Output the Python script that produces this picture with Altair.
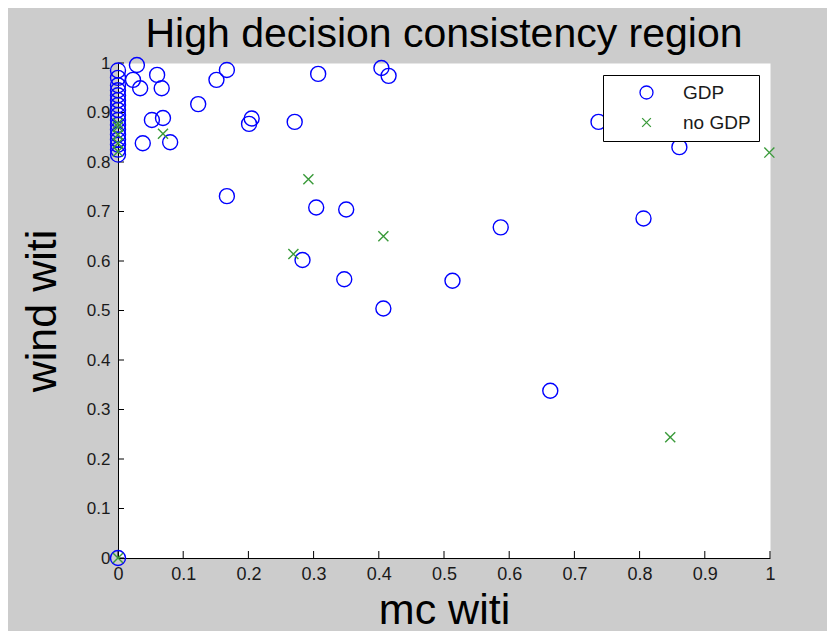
import altair as alt
import pandas as pd

# ---- data ----
gdp_x = [0.029, 0.023, 0.034, 0.060, 0.067, 0.052, 0.069, 0.080, 0.038,
         0.123, 0.151, 0.167, 0.201, 0.205, 0.271, 0.307, 0.404, 0.415,
         0.167, 0.304, 0.350, 0.283, 0.347, 0.407, 0.513, 0.587, 0.806,
         0.663, 0.737, 0.861,
         0.0, 0.0, 0.0, 0.0, 0.0, 0.0, 0.0, 0.0, 0.0, 0.0, 0.0, 0.0,
         0.0, 0.0, 0.0, 0.0, 0.0, 0.0]
gdp_y = [0.996, 0.966, 0.949, 0.976, 0.949, 0.885, 0.889, 0.840, 0.838,
         0.917, 0.966, 0.986, 0.877, 0.888, 0.881, 0.978, 0.990, 0.974,
         0.731, 0.708, 0.704, 0.602, 0.563, 0.504, 0.560, 0.668, 0.686,
         0.338, 0.881, 0.830,
         0.985, 0.970, 0.955, 0.945, 0.935, 0.925, 0.915, 0.905, 0.895,
         0.885, 0.875, 0.865, 0.855, 0.845, 0.835, 0.825, 0.815, 0.0]
nogdp_x = [0.069, 0.292, 0.269, 0.407, 0.847, 0.999,
           0.0, 0.0, 0.0, 0.0, 0.0, 0.0]
nogdp_y = [0.857, 0.765, 0.614, 0.650, 0.244, 0.819,
           0.878, 0.871, 0.855, 0.838, 0.821, 0.0]

groups = ["GDP", "no GDP"]
x_ticks = [0, 0.1, 0.2, 0.3, 0.4, 0.5, 0.6, 0.7, 0.8, 0.9, 1]
y_ticks = [0, 0.1, 0.2, 0.3, 0.4, 0.5, 0.6, 0.7, 0.8, 0.9, 1]

df = pd.DataFrame({
    "mc": gdp_x + nogdp_x,
    "wind": gdp_y + nogdp_y,
    "group": ["GDP"] * len(gdp_x) + ["no GDP"] * len(nogdp_x),
})
xt_df = pd.DataFrame({"mc": x_ticks})
yt_df = pd.DataFrame({"wind": y_ticks})

FONT = "Liberation Sans"
X_SHAPE = "M-0.67,-0.67L0.67,0.67M-0.67,0.67L0.67,-0.67"

xscale = alt.Scale(domain=[0, 1], nice=False, zero=False)
yscale = alt.Scale(domain=[0, 1], nice=False, zero=False)

xaxis = alt.Axis(values=x_ticks, format="~g", title="mc witi", labelFontSize=18,
                 labelPadding=7, titleFontSize=43, titlePadding=6, labelFlush=False)
yaxis = alt.Axis(values=y_ticks, format="~g", title="wind witi", labelFontSize=17,
                 labelPadding=8, titleFontSize=43, titlePadding=22, labelFlush=False)

legend = alt.Legend(title=None, orient="none", legendX=485, legendY=12,
                    padding=8, symbolOffset=26, labelOffset=27, rowPadding=10,
                    labelFontSize=19, labelFont=FONT, labelColor="#1a1a1a",
                    symbolSize=169, symbolStrokeWidth=1.3,
                    strokeColor="black", fillColor="white", cornerRadius=0)

xticks = alt.Chart(xt_df).mark_rule(color="black", strokeWidth=1).encode(
    x=alt.X("mc:Q", scale=xscale, axis=xaxis),
    y=alt.value(495), y2=alt.value(488),
)
yticks = alt.Chart(yt_df).mark_rule(color="black", strokeWidth=1).encode(
    y=alt.Y("wind:Q", scale=yscale, axis=yaxis),
    x=alt.value(0), x2=alt.value(6),
)

points = alt.Chart(df).mark_point(filled=False, size=225, strokeWidth=1.4, opacity=1).encode(
    x=alt.X("mc:Q", scale=xscale, axis=xaxis),
    y=alt.Y("wind:Q", scale=yscale, axis=yaxis),
    color=alt.Color("group:N", scale=alt.Scale(domain=groups, range=["#0000ff", "#3a9a3a"]),
                    legend=legend),
    shape=alt.Shape("group:N", scale=alt.Scale(domain=groups, range=["circle", X_SHAPE]),
                    legend=legend),
)

chart = alt.layer(xticks, yticks, points).properties(
    width=652, height=495,
    autosize=alt.AutoSizeParams(type="none"),
    padding={"left": 110, "right": 57, "top": 55, "bottom": 73},
    background="#cccccc",
    title=alt.Title("High decision consistency region", fontSize=41, font=FONT,
                    fontWeight="normal", color="black", anchor="middle", offset=4, dy=6),
).configure_view(
    fill="white", stroke="transparent"
).configure_axis(
    domainColor="black", domainWidth=1, grid=False, ticks=False, tickSize=0,
    labelFont=FONT, labelColor="#1a1a1a", titleFont=FONT, titleFontWeight="normal",
    titleColor="black",
)

chart.save("out.html", embed_options={"renderer": "svg", "actions": False})
